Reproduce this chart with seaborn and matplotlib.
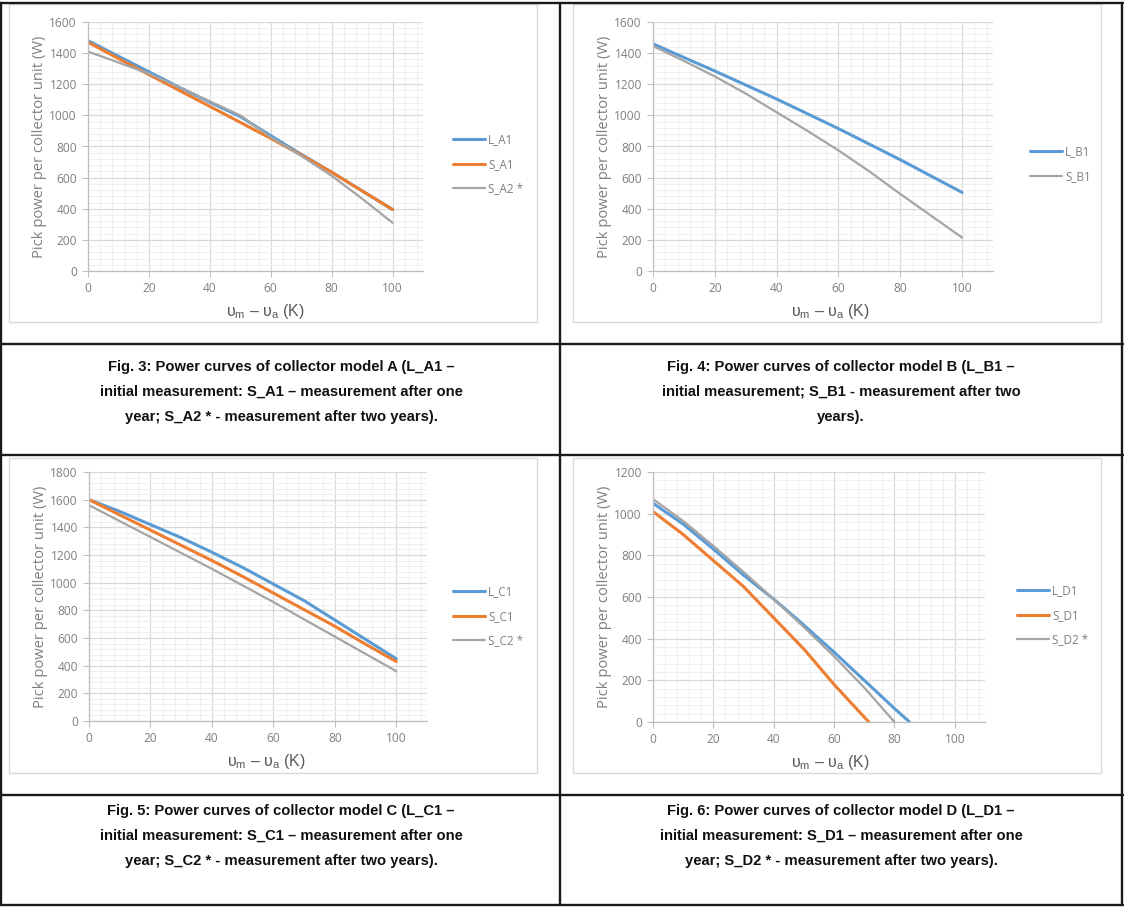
import numpy as np
import pandas as pd
import matplotlib
matplotlib.use("Agg")
import matplotlib.pyplot as plt
import seaborn as sns
from matplotlib.lines import Line2D
from matplotlib.patches import Rectangle
from matplotlib.ticker import MultipleLocator

# ---------------- data ----------------
x_full = [0, 10, 20, 30, 40, 50, 60, 70, 80, 90, 100]

L_A1 = [1480, 1380, 1280, 1180, 1085, 992, 870, 750, 635, 515, 395]
S_A1 = [1470, 1365, 1262, 1160, 1058, 955, 852, 745, 635, 515, 395]
S_A2 = [1410, 1340, 1268, 1180, 1090, 1000, 860, 740, 612, 465, 310]

L_B1 = [1460, 1372, 1285, 1195, 1105, 1010, 915, 815, 715, 610, 505]
S_B1 = [1445, 1350, 1250, 1140, 1020, 900, 775, 640, 495, 355, 215]

L_C1 = [1600, 1515, 1420, 1325, 1220, 1110, 990, 870, 730, 590, 450]
S_C1 = [1600, 1490, 1380, 1270, 1160, 1045, 925, 805, 685, 555, 430]
S_C2 = [1560, 1445, 1330, 1215, 1100, 980, 860, 735, 610, 485, 360]

x_L_D1 = [0, 10, 20, 30, 40, 50, 60, 70, 80, 85]
L_D1 = [1050, 950, 830, 705, 590, 465, 335, 200, 65, 0]
x_S_D1 = [0, 10, 20, 30, 40, 50, 60, 71.5]
S_D1 = [1010, 900, 775, 650, 500, 350, 180, 0]
x_S_D2 = [0, 10, 20, 30, 40, 50, 60, 70, 80]
S_D2 = [1070, 965, 845, 720, 590, 455, 315, 165, 0]

captions = [
    "Fig. 3: Power curves of collector model A (L_A1 \u2013\ninitial measurement: S_A1 \u2013 measurement after one\nyear; S_A2 * - measurement after two years).",
    "Fig. 4: Power curves of collector model B (L_B1 \u2013\ninitial measurement; S_B1 - measurement after two\nyears).",
    "Fig. 5: Power curves of collector model C (L_C1 \u2013\ninitial measurement: S_C1 \u2013 measurement after one\nyear; S_C2 * - measurement after two years).",
    "Fig. 6: Power curves of collector model D (L_D1 \u2013\ninitial measurement: S_D1 \u2013 measurement after one\nyear; S_D2 * - measurement after two years).",
]

BLUE = "#5B9BD5"
ORANGE = "#ED7D31"
GRAY = "#A5A5A5"

sns.set_theme(style="white")
plt.rcParams["font.family"] = ["Open Sans", "DejaVu Sans"]
plt.rcParams["mathtext.fontset"] = "custom"
plt.rcParams["mathtext.rm"] = "Liberation Sans"

W, H = 1129, 908
fig = plt.figure(figsize=(W / 100, H / 100), dpi=100)


def fx(px):
    return px / W


def fy(py):
    return 1 - py / H


def make_df(series):
    rows = []
    for name, xs, ys in series:
        for xv, yv in zip(xs, ys):
            rows.append({"x": xv, "P": yv, "series": name})
    return pd.DataFrame(rows)


def panel(rect_px, box_px, series, colors, widths, ymax, legend_px):
    l, t, r, b = rect_px
    ax = fig.add_axes([fx(l), fy(b), fx(r) - fx(l), fy(t) - fy(b)])
    bl, bt, br, bb = box_px
    fig.add_artist(Rectangle((fx(bl), fy(bb)), fx(br) - fx(bl), fy(bt) - fy(bb),
                             transform=fig.transFigure, fill=False,
                             edgecolor="#D9D9D9", linewidth=1.0))
    df = make_df(series)
    names = [s[0] for s in series]
    for name, col, lw in zip(names, colors, widths):
        sns.lineplot(data=df[df["series"] == name], x="x", y="P", ax=ax,
                     color=col, linewidth=lw, label=name, legend=False,
                     estimator=None, sort=False)
    ax.set_xlim(0, 110)
    ax.set_ylim(0, ymax)
    ax.xaxis.set_minor_locator(MultipleLocator(4))
    ax.yaxis.set_major_locator(MultipleLocator(200))
    ax.yaxis.set_minor_locator(MultipleLocator(40))
    ax.set_xticks([0, 20, 40, 60, 80, 100])
    ax.grid(which="major", color="#D9D9D9", linewidth=0.9)
    ax.grid(which="minor", color="#EFEFEF", linewidth=0.7)
    ax.set_axisbelow(True)
    for s in ["top", "right"]:
        ax.spines[s].set_visible(False)
    for s in ["left", "bottom"]:
        ax.spines[s].set_color("#BFBFBF")
        ax.spines[s].set_linewidth(0.9)
    ax.tick_params(which="major", length=4, width=0.8, color="#BFBFBF",
                   labelsize=8.6, labelcolor="#7F7F7F", pad=4)
    ax.tick_params(which="minor", length=0)
    ax.tick_params(axis="x", which="major", bottom=True)
    ax.tick_params(axis="y", which="major", left=True)
    ax.set_ylabel("Pick power per collector unit (W)", fontsize=10.6,
                  color="#7F7F7F", labelpad=2)
    ax.set_xlabel("\u03c5$_{\\mathrm{m}}$ \u2013 \u03c5$_{\\mathrm{a}}$ (K)",
                  fontsize=11.5, color="#595959",
                  family=["Liberation Sans", "DejaVu Sans"])
    ax.xaxis.set_label_coords(177.0 / (r - l), -31.0 / (b - t))
    handles = [Line2D([], [], color=c, linewidth=lw) for c, lw in zip(colors, widths)]
    lx, ly = legend_px
    fig.legend(handles, names, loc="upper left",
               bbox_to_anchor=(fx(lx), fy(ly)), bbox_transform=fig.transFigure,
               frameon=False, fontsize=8.4, labelcolor="#7F7F7F",
               handlelength=2.7, handletextpad=0.3, labelspacing=1.0,
               borderaxespad=0, borderpad=0)
    return ax


# Panel A
panel((88, 22, 423, 271), (9, 4, 537, 322),
      [("L_A1", x_full, L_A1), ("S_A1", x_full, S_A1), ("S_A2 *", x_full, S_A2)],
      [BLUE, ORANGE, GRAY], [2.2, 2.2, 1.6], 1600, (453, 133))
# Panel B
panel((653, 22, 993, 271), (573, 4, 1101, 322),
      [("L_B1", x_full, L_B1), ("S_B1", x_full, S_B1)],
      [BLUE, GRAY], [2.2, 1.6], 1600, (1030, 145))
# Panel C
panel((89, 472, 427, 721), (9, 458, 537, 773),
      [("L_C1", x_full, L_C1), ("S_C1", x_full, S_C1), ("S_C2 *", x_full, S_C2)],
      [BLUE, ORANGE, GRAY], [2.2, 2.2, 1.6], 1800, (453, 585))
# Panel D
panel((653, 472, 985, 722), (573, 458, 1101, 773),
      [("L_D1", x_L_D1, L_D1), ("S_D1", x_S_D1, S_D1), ("S_D2 *", x_S_D2, S_D2)],
      [BLUE, ORANGE, GRAY], [2.2, 2.2, 1.6], 1200, (1017, 584))

# table lines
lw_t = 1.7
for y in [3, 344, 455, 795, 905]:
    fig.add_artist(Line2D([fx(0), fx(1123)], [fy(y), fy(y)], transform=fig.transFigure,
                          color="#1a1a1a", linewidth=lw_t))
for xv in [1, 560, 1122]:
    fig.add_artist(Line2D([fx(xv), fx(xv)], [fy(3), fy(905)], transform=fig.transFigure,
                          color="#1a1a1a", linewidth=lw_t))

# captions
cap_pos = [(281, 392), (841, 392), (281, 836), (841, 836)]
for (cx, cy), txt in zip(cap_pos, captions):
    fig.text(fx(cx), fy(cy), txt, ha="center", va="center", fontsize=10.6,
             fontweight="bold", color="#111111", linespacing=2.0,
             family=["Liberation Sans", "DejaVu Sans"])

fig.savefig("out.png", dpi=100, facecolor="white")
